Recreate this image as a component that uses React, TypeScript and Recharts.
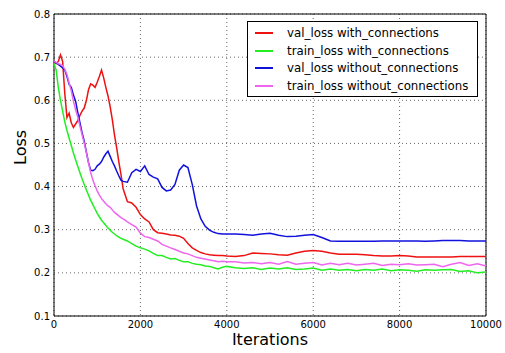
import { CartesianGrid, Line, LineChart, ReferenceArea, XAxis, YAxis } from "recharts";

const iterations = [
  0, 50, 100, 150, 200, 250, 300, 350, 400, 450, 500, 550, 600, 650, 700, 750, 800, 850, 900, 950,
  1000, 1050, 1100, 1150, 1200, 1250, 1300, 1350, 1400, 1450, 1500, 1550, 1600,
  1700, 1800, 1900, 2000, 2100, 2200, 2300, 2400, 2500, 2600, 2700, 2800, 2900, 3000,
  3100, 3200, 3300, 3400, 3500, 3600, 3700, 3800, 3900, 4000,
  4200, 4400, 4600, 4800, 5000, 5200, 5400, 5600, 5800, 6000, 6200, 6400, 6600, 6800, 7000,
  7200, 7400, 7600, 7800, 8000, 8200, 8400, 8600, 8800, 9000, 9200, 9400, 9600, 9800, 10000
];

const valWith = [
  0.69, 0.685, 0.69, 0.705, 0.69, 0.615, 0.56, 0.57, 0.548, 0.537, 0.545, 0.553, 0.565, 0.575, 0.582, 0.6, 0.625, 0.638, 0.635, 0.63,
  0.642, 0.655, 0.67, 0.652, 0.63, 0.61, 0.585, 0.555, 0.52, 0.49, 0.458, 0.428, 0.395,
  0.365, 0.362, 0.352, 0.335, 0.325, 0.318, 0.3, 0.293, 0.292, 0.29, 0.288, 0.287, 0.285, 0.28,
  0.268, 0.258, 0.252, 0.247, 0.244, 0.242, 0.241, 0.24, 0.24, 0.239,
  0.238, 0.24, 0.246, 0.245, 0.244, 0.242, 0.241, 0.246, 0.25, 0.252, 0.25, 0.246, 0.243, 0.243, 0.243,
  0.242, 0.24, 0.239, 0.239, 0.24, 0.239, 0.237, 0.237, 0.237, 0.237, 0.237, 0.238, 0.238, 0.238, 0.238
];

const trainWith = [
  0.685, 0.67, 0.63, 0.6, 0.575, 0.55, 0.53, 0.512, 0.495, 0.478, 0.462, 0.447, 0.432, 0.418, 0.405, 0.392, 0.38, 0.368, 0.358, 0.348,
  0.338, 0.33, 0.322, 0.316, 0.31, 0.304, 0.299, 0.294, 0.29, 0.286, 0.283, 0.28, 0.278,
  0.274, 0.268, 0.262, 0.258, 0.255, 0.251, 0.245, 0.24, 0.24, 0.236, 0.232, 0.233, 0.229, 0.226,
  0.226, 0.222, 0.22, 0.219, 0.216, 0.215, 0.212, 0.209, 0.213, 0.215,
  0.212, 0.21, 0.212, 0.208, 0.211, 0.209, 0.212, 0.208, 0.209, 0.211, 0.206, 0.209, 0.206, 0.208, 0.205,
  0.208, 0.206, 0.209, 0.205, 0.207, 0.206, 0.204, 0.207, 0.206, 0.207, 0.208, 0.203, 0.205, 0.2, 0.202
];

const valWithout = [
  0.69, 0.687, 0.683, 0.679, 0.675, 0.67, 0.655, 0.637, 0.63, 0.612, 0.598, 0.572, 0.548, 0.525, 0.505, 0.48, 0.455, 0.438, 0.437, 0.44,
  0.448, 0.452, 0.458, 0.468, 0.476, 0.482, 0.47, 0.458, 0.448, 0.436, 0.425, 0.415, 0.412,
  0.41, 0.432, 0.44, 0.435, 0.448, 0.428, 0.422, 0.418, 0.398, 0.39, 0.392, 0.405, 0.438, 0.45,
  0.444, 0.405, 0.355, 0.325, 0.308, 0.299, 0.294, 0.291, 0.29, 0.29,
  0.29, 0.289, 0.287, 0.29, 0.292, 0.287, 0.284, 0.285, 0.287, 0.289, 0.282, 0.274, 0.273, 0.273, 0.273,
  0.273, 0.273, 0.274, 0.274, 0.274, 0.274, 0.274, 0.273, 0.274, 0.275, 0.275, 0.275, 0.274, 0.274, 0.274
];

const trainWithout = [
  0.69, 0.688, 0.685, 0.683, 0.68, 0.672, 0.66, 0.64, 0.622, 0.598, 0.578, 0.562, 0.54, 0.52, 0.5, 0.478, 0.455, 0.432, 0.415, 0.402,
  0.39, 0.38, 0.372, 0.366, 0.36, 0.355, 0.352, 0.346, 0.34, 0.336, 0.332, 0.328, 0.325,
  0.318, 0.312, 0.306, 0.292, 0.284, 0.282, 0.278, 0.274, 0.266, 0.262, 0.258, 0.254, 0.25, 0.246,
  0.244, 0.24, 0.236, 0.234, 0.232, 0.23, 0.228, 0.226, 0.227, 0.226,
  0.226, 0.223, 0.224, 0.221, 0.224, 0.22, 0.226, 0.22, 0.222, 0.224, 0.218, 0.222, 0.219, 0.222, 0.218,
  0.22, 0.222, 0.217, 0.22, 0.219, 0.221, 0.218, 0.219, 0.22, 0.214, 0.22, 0.224, 0.217, 0.221, 0.216
];

const xTicks = [0, 2000, 4000, 6000, 8000, 10000];
const yTicks = [0.1, 0.2, 0.3, 0.4, 0.5, 0.6, 0.7, 0.8];

const series = [
  { key: "valWith", name: "val_loss with_connections", color: "#ee1111" },
  { key: "trainWith", name: "train_loss with_connections", color: "#22ee22" },
  { key: "valWithout", name: "val_loss without_connections", color: "#1111dd" },
  { key: "trainWithout", name: "train_loss without_connections", color: "#ee66ee" }
];

const data = iterations.map((it, i) => ({
  it,
  valWith: valWith[i],
  trainWith: trainWith[i],
  valWithout: valWithout[i],
  trainWithout: trainWithout[i]
}));

const font = "'DejaVu Sans', sans-serif";

export default function App() {
  return (
    <div style={{ position: "absolute", left: 0, top: 0, width: 505, height: 353, background: "#fff", fontFamily: font }}>
      <LineChart width={505} height={353} data={data} margin={{ top: 14, right: 19, bottom: 0, left: 0 }}>
        <CartesianGrid stroke="#000" strokeDasharray="1 3" strokeOpacity={0.6} />
        <XAxis
          dataKey="it"
          type="number"
          domain={[0, 10000]}
          ticks={xTicks}
          height={37}
          axisLine={false}
          tickLine={false}
          tickSize={3}
          tick={{ fill: "#000", fontSize: 10, fontFamily: font }}
          label={{ value: "Iterations", position: "insideBottom", offset: 8, fill: "#000", fontSize: 16, fontFamily: font }}
        />
        <YAxis
          type="number"
          domain={[0.1, 0.8]}
          ticks={yTicks}
          width={54}
          axisLine={false}
          tickLine={false}
          tickSize={2}
          tickFormatter={(v: number) => v.toFixed(1)}
          tick={{ fill: "#000", fontSize: 10, fontFamily: font }}
          label={{ value: "Loss", angle: -90, position: "insideLeft", offset: 20, fill: "#000", fontSize: 16, fontFamily: font }}
        />
        <ReferenceArea x1={0} x2={10000} y1={0.1} y2={0.8} fill="none" stroke="#000" strokeWidth={1} ifOverflow="visible" />
        {series.map((s) => (
          <Line key={s.key} type="linear" dataKey={s.key} name={s.name} stroke={s.color} strokeWidth={1.5} dot={false} isAnimationActive={false} />
        ))}
      </LineChart>
      <div
        style={{
          position: "absolute",
          left: 247,
          top: 21,
          width: 229,
          height: 74,
          border: "1px solid #000",
          background: "#fff",
          fontSize: 11.8,
          color: "#000"
        }}
      >
        {series.map((s, i) => (
          <div key={s.key} style={{ position: "absolute", left: 0, top: 3 + i * 17.7, height: 16, display: "flex", alignItems: "center" }}>
            <span style={{ display: "inline-block", marginLeft: 7, width: 18, height: 2, background: s.color }} />
            <span style={{ marginLeft: 14, whiteSpace: "nowrap" }}>{s.name}</span>
          </div>
        ))}
      </div>
    </div>
  );
}
